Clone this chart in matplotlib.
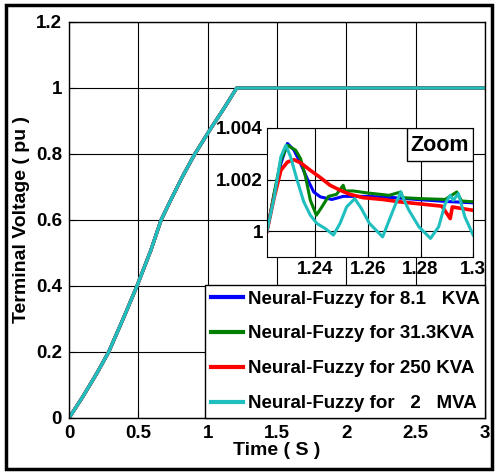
import matplotlib
matplotlib.use("Agg")
import matplotlib.pyplot as plt
from matplotlib.patches import Rectangle

plt.rcParams['font.family'] = ['Liberation Sans', 'DejaVu Sans']
plt.rcParams['font.weight'] = 'bold'

# main plot: terminal voltage ramp (all four runs overlap at this scale)
main_t = [0, 0.1, 0.2, 0.286, 0.4, 0.49, 0.59, 0.664, 0.74, 0.82, 0.907, 1.031, 1.12, 1.209, 1.5, 2.0, 2.5, 3.0]
main_v = [0, 0.065, 0.135, 0.2, 0.31, 0.4, 0.508, 0.6, 0.666, 0.733, 0.8, 0.883, 0.94, 1.0, 1.0, 1.0, 1.0, 1.0]

labels = ['Neural-Fuzzy for 8.1   KVA', 'Neural-Fuzzy for 31.3KVA',
          'Neural-Fuzzy for 250 KVA', 'Neural-Fuzzy for   2   MVA']
colors = ['#0000ff', '#008000', '#ff0000', '#1fbfbf']

# zoomed window
blue_t = [1.2216, 1.2244, 1.2269, 1.2294, 1.2319, 1.2344, 1.2369, 1.2394, 1.2419, 1.2463,
          1.2506, 1.2544, 1.26, 1.27, 1.28, 1.29, 1.3]
blue_v = [1.0, 1.00146, 1.00262, 1.0034, 1.00314, 1.00262, 1.00204, 1.00152, 1.00133, 1.00123,
          1.00135, 1.00135, 1.00135, 1.0013, 1.00122, 1.00115, 1.0011]

green_t = [1.2216, 1.2244, 1.2269, 1.2294, 1.2325, 1.2344, 1.2363, 1.2381, 1.2404, 1.2425,
           1.245, 1.2481, 1.2506, 1.2513, 1.2544, 1.26, 1.2681, 1.2725, 1.2731, 1.2806,
           1.2894, 1.2938, 1.2956, 1.3]
green_v = [1.0, 1.0015, 1.00275, 1.00333, 1.00314, 1.00281, 1.0021, 1.0012, 1.00062, 1.00094,
           1.00135, 1.00143, 1.00178, 1.00156, 1.00156, 1.00148, 1.00139, 1.00152, 1.0013, 1.00126,
           1.00123, 1.00152, 1.00117, 1.00114]

red_t = [1.2216, 1.2244, 1.2269, 1.2294, 1.2319, 1.2344, 1.2381, 1.2419, 1.2456, 1.2494,
         1.2531, 1.2581, 1.2656, 1.2719, 1.2806, 1.2881, 1.2913, 1.2921, 1.2956, 1.3]
red_v = [1.0, 1.00133, 1.00236, 1.00268, 1.00277, 1.00265, 1.00236, 1.00208, 1.00178, 1.00159,
         1.00143, 1.0013, 1.00123, 1.00114, 1.00105, 1.00097, 1.00049, 1.00094, 1.00088, 1.00081]

cyan_t = [1.2216, 1.2244, 1.2269, 1.2288, 1.2306, 1.2331, 1.2356, 1.2381, 1.2406, 1.2438,
          1.2469, 1.2494, 1.2519, 1.255, 1.2575, 1.2606, 1.2656, 1.2681, 1.2706, 1.2725,
          1.2738, 1.2756, 1.2794, 1.2838, 1.2869, 1.2894, 1.2913, 1.2925, 1.2944, 1.2969, 1.3]
cyan_v = [1.0, 1.00133, 1.00288, 1.00333, 1.00288, 1.00197, 1.00114, 1.00062, 1.0003, 1.0001,
          0.99985, 1.0003, 1.00094, 1.00126, 1.00088, 1.0003, 0.99978, 1.00043, 1.00107, 1.00152,
          1.0012, 1.00081, 1.00017, 0.99972, 1.00017, 1.00107, 1.00139, 1.0012, 1.00146, 1.00055, 0.99985]

main_xticks = [0, 0.5, 1, 1.5, 2, 2.5, 3]
main_xlabels = ['0', '0.5', '1', '1.5', '2', '2.5', '3']
main_yticks = [0, 0.2, 0.4, 0.6, 0.8, 1.0, 1.2]
main_ylabels = ['0', '0.2', '0.4', '0.6', '0.8', '1', '1.2']
zoom_xticks = [1.24, 1.26, 1.28, 1.3]
zoom_xlabels = ['1.24', '1.26', '1.28', '1.3']
zoom_yticks = [1.0, 1.002, 1.004]
zoom_ylabels = ['1', '1.002', '1.004']

fig = plt.figure(figsize=(4.98, 4.73), dpi=100)
fig.patches.append(Rectangle((0.013, 0.009), 0.974, 0.98, transform=fig.transFigure,
                             fill=False, edgecolor='black', linewidth=2.5))

ax = fig.add_axes([0.1386, 0.1163, 0.8354, 0.8372])
for lab, c in zip(labels, colors):
    ax.plot(main_t, main_v, color=c, linewidth=2.4, label=lab)
ax.set_xlim(0, 3)
ax.set_ylim(0, 1.2)
ax.set_xticks(main_xticks)
ax.set_xticklabels(main_xlabels)
ax.set_yticks(main_yticks)
ax.set_yticklabels(main_ylabels)
ax.tick_params(direction='in', length=4, labelsize=13.5, pad=5)
ax.grid(True, color='black', linewidth=0.8)
for s in ax.spines.values():
    s.set_linewidth(1.0)
ax.set_xlabel('Time ( S )', fontsize=14, fontweight='bold', labelpad=0)
ax.set_ylabel('Terminal Voltage ( pu )', fontsize=14, fontweight='bold', labelpad=4)
leg = ax.legend(loc='lower right', bbox_to_anchor=(1, 0), borderaxespad=0, fancybox=False,
                edgecolor='black', framealpha=1, fontsize=13.5, handlelength=1.7,
                handletextpad=0.25, labelspacing=0.95, borderpad=0.3)
leg.get_frame().set_linewidth(1.0)
for h in leg.get_lines():
    h.set_linewidth(3)

ax_in = fig.add_axes([0.536, 0.4567, 0.414, 0.2727])
ax_in.plot(blue_t, blue_v, color=colors[0], linewidth=2.2)
ax_in.plot(green_t, green_v, color=colors[1], linewidth=2.2)
ax_in.plot(red_t, red_v, color=colors[2], linewidth=2.6)
ax_in.plot(cyan_t, cyan_v, color=colors[3], linewidth=2.2)
ax_in.set_xlim(1.2216, 1.3)
ax_in.set_ylim(0.999, 1.004)
ax_in.set_xticks(zoom_xticks)
ax_in.set_xticklabels(zoom_xlabels)
ax_in.set_yticks(zoom_yticks)
ax_in.set_yticklabels(zoom_ylabels)
ax_in.tick_params(direction='in', length=3, labelsize=13.5, pad=3)
ax_in.grid(True, color='black', linewidth=0.8)
ax_in.add_patch(Rectangle((0.68, 0.744), 0.32, 0.256, transform=ax_in.transAxes,
                          facecolor='white', edgecolor='black', linewidth=1, zorder=5))
ax_in.text(0.84, 0.868, 'Zoom', transform=ax_in.transAxes, ha='center', va='center',
           fontsize=15.5, fontweight='bold', zorder=6)

fig.savefig('out.png', dpi=100)
